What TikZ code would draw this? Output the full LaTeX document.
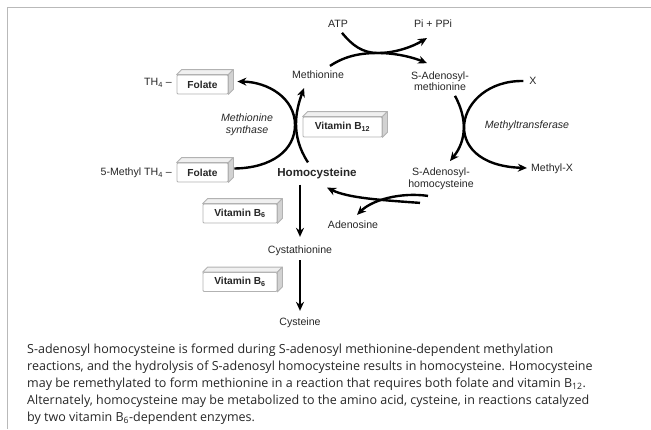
\documentclass[tikz,border=0pt]{standalone}
\usepackage{fontspec}
\setmainfont{Liberation Sans}
\newfontfamily\capfont{Open Sans}
\usetikzlibrary{arrows.meta}
\newcommand\boxfaces[1]{%
  \filldraw[fill=gray!12, draw=gray!60, line width=0.8pt, line join=round] (#1.north west) -- ++(5,-5) -- ([shift={(5,-5)}]#1.north east) -- (#1.north east) -- cycle;
  \filldraw[fill=gray!35, draw=gray!60, line width=0.8pt, line join=round] (#1.north east) -- ++(5,-5) -- ([shift={(5,-5)}]#1.south east) -- (#1.south east) -- cycle;}
\begin{document}
\begin{tikzpicture}[x=1pt,y=-1pt,
  lbl/.style={font=\fontsize{10.6}{11.5}\selectfont, inner sep=1pt, align=center, text=black!85},
  ital/.style={font=\fontsize{10.6}{12}\selectfont\itshape, inner sep=1pt, align=center, text=black!85},
  boldlbl/.style={font=\fontsize{11.6}{12}\selectfont\bfseries, inner sep=1pt, text=black!85},
  boxf/.style={draw=gray!60, line width=0.8pt, fill=white, rounded corners=1pt, font=\fontsize{10.2}{10}\selectfont\bfseries, minimum height=19, inner sep=0pt, text=black!85},
  rl/.style={line width=2.4pt},
  rx/.style={line width=2.4pt, -{Stealth[length=9pt,width=8pt]}},
  capline/.style={font=\capfont\fontsize{12.5}{14}\selectfont, anchor=west, inner sep=0pt, text=black!85}
]
\useasboundingbox (0,0) rectangle (651,429);
\draw[gray!55, line width=1pt] (651,7) -- (7,7) -- (7,429);

% labels
\node[lbl] (atp) at (338,24) {ATP};
\node[lbl] (ppi) at (433,24) {Pi + PPi};
\node[lbl] (met) at (318,75) {Methionine};
\node[lbl] (sam) at (440,81) {S-Adenosyl-\\methionine};
\node[lbl] (x) at (533,81) {X};
\node[ital] (mt) at (527,126) {Methyltransferase};
\node[lbl] (mx) at (552,169) {Methyl-X};
\node[lbl] (sah) at (441,179) {S-Adenosyl-\\homocysteine};
\node[lbl] (ado) at (353,225) {Adenosine};
\node[boldlbl] (hcy) at (317,173) {Homocysteine};
\node[ital] (ms) at (247,125) {Methionine\\synthase};
\node[lbl] (cyst) at (300,251) {Cystathionine};
\node[lbl] (cys) at (300,323) {Cysteine};

% boxes
\node[boxf, minimum width=51] (f1) at (202.5,84.5) {Folate};
\boxfaces{f1}
\node[lbl, anchor=east] (th4) at (173,83) {TH\textsubscript{4} –};
\node[boxf, minimum width=51] (f2) at (202.5,172.5) {Folate};
\boxfaces{f2}
\node[lbl, anchor=east] (mth4) at (173,173) {5-Methyl TH\textsubscript{4} –};
\node[boxf, minimum width=79, minimum height=20] (b12) at (342.5,127) {Vitamin B\textsubscript{12}};
\boxfaces{b12}
\node[boxf, minimum width=74] (b6a) at (240,213.5) {Vitamin B\textsubscript{6}};
\boxfaces{b6a}
\node[boxf, minimum width=74] (b6b) at (240,282) {Vitamin B\textsubscript{6}};
\boxfaces{b6b}

% ATP reaction
\coordinate (m1) at (378,53);
\draw[rl] ([shift={(4,4)}]atp.south) .. controls (352,45) and (362,53) .. (m1);
\draw[rl] ([shift={(12,-4)}]met.north) .. controls (345,56) and (360,53) .. (m1);
\draw[rx] (m1) .. controls (395,53) and (412,47) .. ([shift={(-6,9)}]ppi.south);
\draw[rx] (m1) .. controls (395,53) and (412,57) .. ([shift={(-13,-7)}]sam.north);

% methyltransferase
\draw[rx] ([shift={(15,4)}]sam.south) .. controls (467,118) and (467,140) .. ([shift={(9,-6)}]sah.north);
\draw[rx] ([shift={(-5,0)}]x.west) .. controls (455,80) and (435,165) .. ([shift={(-3,-1)}]mx.west);

% SAH hydrolysis
\draw[rx] ([shift={(-21,12)}]sah.south) .. controls (380,200) and (348,198) .. ([shift={(10,8)}]hcy.south);
\draw[rx] ([shift={(-13,5)}]sah.south) .. controls (400,192) and (372,200) .. ([shift={(4,-5)}]ado.north);

% methionine synthase
\coordinate (m2) at (295,125);
\draw[rl] ([shift={(6,-4)}]f2.east) .. controls (272,168) and (295,150) .. (m2);
\draw[rx] (m2) .. controls (295,98) and (268,82) .. ([shift={(9,-3)}]f1.east);
\draw[rx] ([shift={(-9,-4)}]hcy.north) .. controls (290,135) and (296,110) .. ([shift={(-14,8)}]met.south);

% transsulfuration
\draw[rx, shorten <=5pt, shorten >=8pt] (hcy.south -| cyst.north) -- (cyst.north);
\draw[rx, shorten <=3pt, shorten >=6pt] (cyst.south) -- (cys.north);

% caption
\node[capline] (c1) at (27,350) {S-adenosyl homocysteine is formed during S-adenosyl methionine-dependent methylation};
\node[capline] (c2) at (27,367) {reactions, and the hydrolysis of S-adenosyl homocysteine results in homocysteine. Homocysteine};
\node[capline] (c3) at (27,384) {may be remethylated to form methionine in a reaction that requires both folate and vitamin B\textsubscript{12}.};
\node[capline] (c4) at (27,401) {Alternately, homocysteine may be metabolized to the amino acid, cysteine, in reactions catalyzed};
\node[capline] (c5) at (27,418) {by two vitamin B\textsubscript{6}-dependent enzymes.};
\end{tikzpicture}
\end{document}
